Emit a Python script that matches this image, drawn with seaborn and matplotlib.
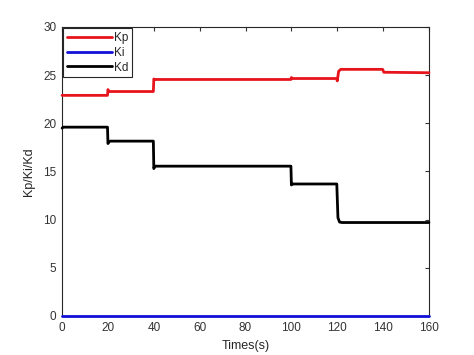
import matplotlib
matplotlib.use('Agg')
import matplotlib.pyplot as plt
import seaborn as sns
import pandas as pd

# 시간축과 각 게인 값
t_kp = [0, 19.8, 20.0, 20.5, 39.8, 40.0, 40.3, 99.8, 100.0, 100.5, 119.8, 120.0, 120.6, 121.5, 139.8, 140.3, 160]
kp = [22.9, 22.9, 23.5, 23.3, 23.3, 24.6, 24.55, 24.55, 24.75, 24.65, 24.65, 24.4, 25.4, 25.6, 25.6, 25.3, 25.25]

t_ki = [0, 160]
ki = [0.0, 0.0]

t_kd = [0, 0.5, 19.8, 20.0, 20.5, 21.0, 39.8, 40.0, 40.5, 41.0, 99.8, 100.0, 100.6, 101.2, 119.8, 120.3, 121.0, 122.0, 160]
kd = [19.5, 19.6, 19.6, 17.9, 18.1, 18.15, 18.15, 15.3, 15.55, 15.55, 15.55, 13.6, 13.7, 13.7, 13.7, 10.2, 9.75, 9.7, 9.7]

df = pd.concat([
    pd.DataFrame({'t': t_kp, 'v': kp, 'name': 'Kp'}),
    pd.DataFrame({'t': t_ki, 'v': ki, 'name': 'Ki'}),
    pd.DataFrame({'t': t_kd, 'v': kd, 'name': 'Kd'}),
])

sns.set_style('white')
plt.rcParams['font.family'] = ['Arial', 'Liberation Sans', 'DejaVu Sans']

fig = plt.figure(figsize=(4.74, 3.55), dpi=100)
ax = fig.add_axes([0.131, 0.11, 0.774, 0.814])
sns.lineplot(data=df, x='t', y='v', hue='name', sort=False, estimator=None,
             palette={'Kp': '#e8141c', 'Ki': '#1010d8', 'Kd': '#000000'},
             linewidth=2, ax=ax)
for ln in ax.lines:
    ln.set_clip_on(False)
    ln.set_zorder(5)

ax.set_xlim(0, 160)
ax.set_ylim(0, 30)
ax.set_xticks(range(0, 161, 20))
ax.set_yticks(range(0, 31, 5))
ax.tick_params(direction='in', length=3, width=0.8, top=True, right=True,
               labelsize=8.5, colors='#333333', pad=4)
for s in ax.spines.values():
    s.set_color('#262626')
    s.set_linewidth(0.8)
ax.set_xlabel('Times(s)', fontsize=9, labelpad=5)
ax.set_ylabel('Kp/Ki/Kd', fontsize=9, labelpad=6)

leg = ax.legend(loc='upper left', fontsize=8.5, frameon=True, fancybox=False,
                borderaxespad=0.1, handlelength=3.8, handletextpad=0.2,
                labelspacing=0.25, borderpad=0.3)
leg.get_frame().set_edgecolor('#262626')
leg.get_frame().set_linewidth(0.8)
leg.get_frame().set_alpha(1)
leg.set_zorder(10)

fig.savefig('out.png', dpi=100)
